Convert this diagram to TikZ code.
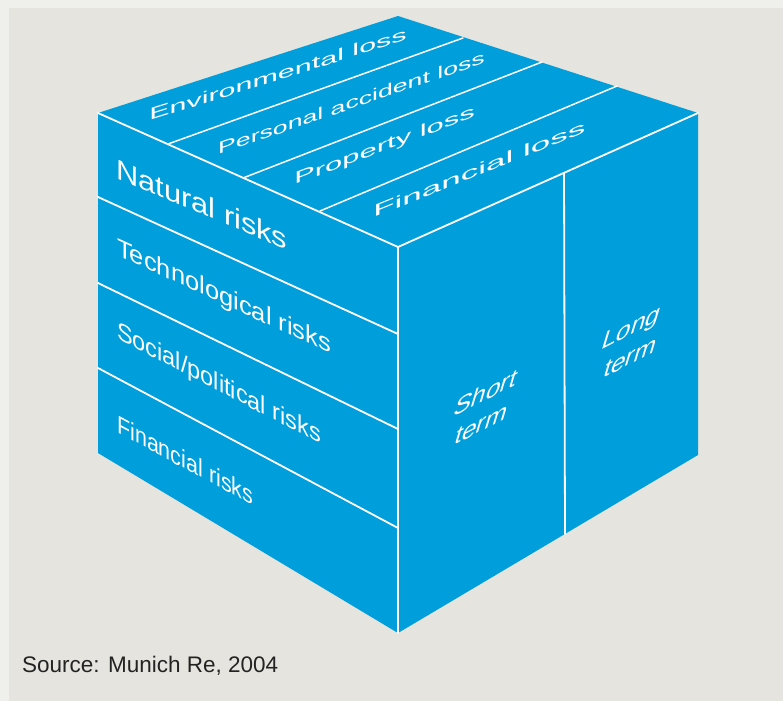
\documentclass[tikz,border=0pt]{standalone}
\usepackage{fontspec}
\setmainfont{Liberation Sans}
\definecolor{bg}{RGB}{229,228,222}
\definecolor{bgedge}{RGB}{239,239,236}
\definecolor{cubeblue}{RGB}{0,158,219}
\definecolor{srcgray}{RGB}{35,35,35}
\begin{document}
\begin{tikzpicture}[x=1pt,y=-1pt,
  edge/.style={draw=white, line width=1.8pt, line cap=round},
  face/.style={fill=cubeblue, draw=none},
  lbl/.style={text=white, inner sep=0pt, anchor=base west}]
\useasboundingbox (0,0) rectangle (783,701);
\fill[bg] (0,0) rectangle (783,701);
\fill[bgedge] (0,0) rectangle (783,8);
\fill[bgedge] (0,0) rectangle (9,701);

% cube vertices
\coordinate (LT) at (98,113);
\coordinate (BK) at (398,16);
\coordinate (RT) at (698,113);
\coordinate (FT) at (398,247);
\coordinate (RB) at (698,455);
\coordinate (FB) at (398,633);
\coordinate (LB) at (98,453);

\fill[face] (LT) -- (BK) -- (RT) -- (RB) -- (FB) -- (LB) -- cycle;

% main edges
\draw[edge] (LT) -- (FT) -- (RT);
\draw[edge] (FT) -- (FB);

% top face dividers
\coordinate (t1a) at (168,144); \coordinate (t1b) at (463,38);
\coordinate (t2a) at (243,178); \coordinate (t2b) at (542,62);
\coordinate (t3a) at (320,211); \coordinate (t3b) at (617,86);
\draw[edge, line width=1.5pt] (t1a) -- (t1b);
\draw[edge, line width=1.5pt] (t2a) -- (t2b);
\draw[edge, line width=1.5pt] (t3a) -- (t3b);

% left face dividers
\coordinate (l1a) at (98,197); \coordinate (l1b) at (398,334);
\coordinate (l2a) at (98,283); \coordinate (l2b) at (398,429);
\coordinate (l3a) at (98,368); \coordinate (l3b) at (398,528);
\draw[edge] (l1a) -- (l1b);
\draw[edge] (l2a) -- (l2b);
\draw[edge] (l3a) -- (l3b);

% right face divider
\coordinate (r1a) at (564,173); \coordinate (r1b) at (565,534);
\draw[edge] (r1a) -- (r1b);

% left face labels
\node[lbl, font=\fontsize{28}{28}\selectfont, cm={1.1,-0.462,0,1,(0,0)}] (natural) at (116,178) {Natural risks};
\node[lbl, font=\fontsize{25}{25}\selectfont, cm={1.02,-0.469,0,1,(0,0)}] (techno) at (117,255) {Technological risks};
\node[lbl, font=\fontsize{25}{25}\selectfont, cm={0.94,-0.489,0,1,(0,0)}] (social) at (117,338) {Social/political risks};
\node[lbl, font=\fontsize{25}{25}\selectfont, cm={0.86,-0.464,0,1,(0,0)}] (finrisk) at (117,432) {Financial risks};

% top face labels
\node[lbl, font=\fontsize{24}{24}\selectfont, cm={1.27,0.40,0,0.7,(0,0)}] (env) at (149,121) {Environmental loss};
\node[lbl, font=\fontsize{24}{24}\selectfont, cm={1.11,0.383,0,0.7,(0,0)}] (pers) at (218,155) {Personal accident loss};
\node[lbl, font=\fontsize{24}{24}\selectfont, cm={1.29,0.485,0,0.7,(0,0)}] (prop) at (294,185) {Property loss};
\node[lbl, font=\fontsize{24}{24}\selectfont, cm={1.46,0.59,0,0.7,(0,0)}] (finloss) at (373,218) {Financial loss};

% right face labels
\node[lbl, font=\fontsize{26}{26}\selectfont, cm={1.0,0.52,0.3,1.0,(0,0)}] (short) at (452,418) {Short};
\node[lbl, font=\fontsize{26}{26}\selectfont, cm={1.0,0.52,0.3,1.0,(0,0)}] (shortterm) at (453,446) {term};
\node[lbl, font=\fontsize{26}{26}\selectfont, cm={1.0,0.52,0.3,1.0,(0,0)}] (long) at (600,351) {Long};
\node[lbl, font=\fontsize{26}{26}\selectfont, cm={1.0,0.52,0.3,1.0,(0,0)}] (longterm) at (602,379) {term};

% source
\node[anchor=base west, inner sep=0pt, text=srcgray, font=\fontsize{22.5}{22.5}\selectfont] (source) at (22,672) {Source: Munich Re, 2004};
\end{tikzpicture}
\end{document}
